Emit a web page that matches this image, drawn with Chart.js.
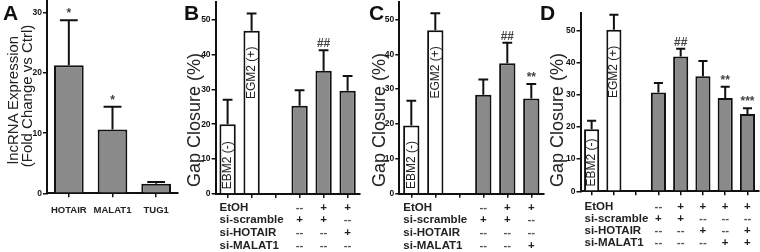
<!DOCTYPE html>
<html>
<head>
<meta charset="utf-8">
<script src="https://cdn.jsdelivr.net/npm/chart.js@4.4.0/dist/chart.umd.min.js"></script>
<style>
  html, body { margin: 0; padding: 0; background: #fff; }
  #fig { position: relative; width: 760px; height: 252px; overflow: hidden;
         font-family: "Liberation Sans", Arial, sans-serif; color: #222; }
  .panel { position: absolute; top: 0; height: 252px; }
  .letter { position: absolute; font-weight: bold; font-size: 21px; line-height: 1; color: #111; }
  .ytitle { position: absolute; white-space: nowrap; line-height: 1;
            transform: translate(-50%, -50%) rotate(-90deg); }
</style>
</head>
<body>
<div id="fig">
  <div class="panel" style="left:0;width:182px"><canvas id="chartA"></canvas></div>
  <div class="panel" style="left:185px;width:180px"><canvas id="chartB"></canvas></div>
  <div class="panel" style="left:370px;width:180px"><canvas id="chartC"></canvas></div>
  <div class="panel" style="left:550px;width:210px"><canvas id="chartD"></canvas></div>

  <div class="letter" style="left:3px;top:2px">A</div>
  <div class="letter" style="left:184px;top:2px">B</div>
  <div class="letter" style="left:369px;top:2px">C</div>
  <div class="letter" style="left:540px;top:2px">D</div>

  <div class="ytitle" style="left:12px;top:100px;font-size:15px">lncRNA Expression</div>
  <div class="ytitle" style="left:26px;top:96px;font-size:15px">(Fold Change vs Ctrl)</div>
  <div class="ytitle" style="left:194px;top:120px;font-size:18px">Gap Closure (%)</div>
  <div class="ytitle" style="left:379px;top:120px;font-size:18px">Gap Closure (%)</div>
  <div class="ytitle" style="left:557px;top:120px;font-size:18px">Gap Closure (%)</div>
</div>

<script>
// ---- panel A: lncRNA expression
const genesA = ['HOTAIR', 'MALAT1', 'TUG1'];
const foldA = [21.3, 10.6, 1.6];
const foldErrA = [7.5, 3.8, 0.3];
const marksA = ['*', '*', ''];
const yTicksA = [0, 10, 20, 30];

// ---- panels B-D: gap closure (two media controls, empty slot, siRNA groups)
const rowNames = ['EtOH', 'si-scramble', 'si-HOTAIR', 'si-MALAT1'];
const yTicksGap = [0, 10, 20, 30, 40, 50];

const groupsB = ['EBM2 (-)', 'EGM2 (+)', '', 'scr', 'scr+EtOH', 'HOTAIR+EtOH'];
const gapB = [20.0, 46.8, null, 25.3, 35.3, 29.6];
const gapErrB = [7.0, 4.9, null, 4.4, 5.9, 4.2];
const marksB = ['', '', '', '', '##', ''];
const etohB = ['', '', '', '--', '+', '+'];
const scrambleB = ['', '', '', '+', '+', '--'];
const hotairB = ['', '', '', '--', '--', '+'];
const malatB = ['', '', '', '--', '--', '--'];

const groupsC = ['EBM2 (-)', 'EGM2 (+)', '', 'scr', 'scr+EtOH', 'MALAT1+EtOH'];
const gapC = [19.6, 46.9, null, 28.4, 37.4, 27.3];
const gapErrC = [7.1, 4.9, null, 4.4, 5.9, 4.2];
const marksC = ['', '', '', '', '##', '**'];
const etohC = ['', '', '', '--', '+', '+'];
const scrambleC = ['', '', '', '+', '+', '--'];
const hotairC = ['', '', '', '--', '--', '--'];
const malatC = ['', '', '', '--', '--', '+'];

const groupsD = ['EBM2 (-)', 'EGM2 (+)', '', 'scr', 'scr+EtOH', 'HOTAIR+EtOH', 'MALAT1+EtOH', 'both+EtOH'];
const gapD = [19.3, 50.2, null, 30.7, 41.9, 35.7, 29.0, 24.0];
const gapErrD = [2.6, 4.6, null, 2.9, 2.4, 4.8, 3.5, 1.8];
const marksD = ['', '', '', '', '##', '', '**', '***'];
const etohD = ['', '', '', '--', '+', '+', '+', '+'];
const scrambleD = ['', '', '', '+', '+', '--', '--', '--'];
const hotairD = ['', '', '', '--', '--', '+', '--', '+'];
const malatD = ['', '', '', '--', '--', '--', '+', '+'];

const FONT = '"Liberation Sans", Arial, sans-serif';
const GREY = '#8a8a8a';

// error bars, significance marks, in-bar labels and the treatment table
const extras = {
  id: 'extras',
  afterDatasetsDraw(chart, args, o) {
    const ctx = chart.ctx;
    const x = chart.scales.x, y = chart.scales.y;
    const meta = chart.getDatasetMeta(0);
    const vals = chart.data.datasets[0].data;
    ctx.save();
    meta.data.forEach((bar, i) => {
      if (vals[i] == null) return;
      const top = y.getPixelForValue(vals[i]);
      const errTop = y.getPixelForValue(vals[i] + o.err[i]);
      const half = bar.width * 0.3;
      ctx.strokeStyle = '#111';
      ctx.lineWidth = 2;
      ctx.beginPath();
      ctx.moveTo(bar.x, top);
      ctx.lineTo(bar.x, errTop);
      ctx.moveTo(bar.x - half, errTop);
      ctx.lineTo(bar.x + half, errTop);
      ctx.stroke();
      if (o.marks[i]) {
        ctx.font = 'bold 12px ' + FONT;
        ctx.fillStyle = '#444';
        ctx.textAlign = 'center';
        ctx.textBaseline = 'alphabetic';
        ctx.fillText(o.marks[i], bar.x, errTop - 3);
      }
    });

    if (o.inBar) {
      ctx.font = '12px ' + FONT;
      ctx.fillStyle = '#222';
      ctx.textBaseline = 'middle';
      [0, 1].forEach(i => {
        const bar = meta.data[i];
        ctx.save();
        ctx.translate(bar.x, i === 0 ? bar.base - 4 : bar.y + 16);
        ctx.rotate(-Math.PI / 2);
        ctx.textAlign = i === 0 ? 'left' : 'right';
        ctx.fillText(chart.data.labels[i], 0, 0);
        ctx.restore();
      });
    }

    if (o.rows) {
      ctx.textBaseline = 'middle';
      ctx.font = 'bold 11.5px ' + FONT;
      o.rows.forEach((row, r) => {
        const yy = o.rowY + r * o.rowStep;
        ctx.fillStyle = '#222';
        ctx.textAlign = 'left';
        ctx.fillText(rowNames[r], chart.chartArea.left + 4, yy);
        ctx.textAlign = 'center';
        row.forEach((s, i) => {
          if (!s) return;
          ctx.fillStyle = s === '+' ? '#222' : '#555';
          ctx.fillText(s, x.getPixelForValue(i), yy);
        });
      });
    }
    ctx.restore();
  }
};

function noPad(s) {
  s.paddingTop = 0; s.paddingBottom = 0; s.paddingLeft = 0; s.paddingRight = 0;
}

function makePanel(id, p) {
  return new Chart(document.getElementById(id), {
    type: 'bar',
    data: {
      labels: p.labels,
      datasets: [{
        data: p.values,
        backgroundColor: c => (p.whiteFirst && c.dataIndex < 2) ? '#fff' : GREY,
        borderColor: '#111',
        borderWidth: 2,
        borderSkipped: 'start',
        barPercentage: 0.68,
        categoryPercentage: 1.0
      }]
    },
    options: {
      responsive: true,
      maintainAspectRatio: false,
      animation: false,
      layout: { padding: p.pad },
      plugins: {
        legend: { display: false },
        tooltip: { enabled: false },
        extras: { err: p.err, marks: p.marks, inBar: p.whiteFirst, rows: p.rows, rowY: p.rowY, rowStep: p.rowStep }
      },
      scales: {
        x: {
          offset: true,
          grid: { drawOnChartArea: false, drawTicks: true, tickLength: 4, offset: false, color: '#111', lineWidth: 1.5 },
          border: { display: true, color: '#111', width: 2 },
          ticks: {
            autoSkip: false, maxRotation: 0, padding: 7, color: '#222',
            font: { size: 9.5, weight: 'bold', family: FONT },
            callback: function(v, i) { return p.showLabels ? this.getLabelForValue(v) : ''; }
          },
          afterFit: s => { s.height = p.xH; noPad(s); }
        },
        y: {
          min: 0,
          max: p.yMax,
          afterBuildTicks: s => { s.ticks = p.yTicks.map(v => ({ value: v })); },
          grid: { drawOnChartArea: false, drawTicks: true, tickLength: 4, color: '#111', lineWidth: 1.5 },
          border: { display: true, color: '#111', width: 2 },
          ticks: { padding: 1, color: '#111', font: { size: 8.5, weight: 'bold', family: FONT } },
          afterFit: s => { s.width = p.yW; noPad(s); }
        }
      }
    },
    plugins: [extras]
  });
}

makePanel('chartA', {
  labels: genesA, values: foldA, err: foldErrA, marks: marksA, yTicks: yTicksA, yMax: 32,
  whiteFirst: false, showLabels: true, yW: 47, xH: 58.7, pad: { top: 1, right: 4, left: 0, bottom: 0 }
});
makePanel('chartB', {
  labels: groupsB, values: gapB, err: gapErrB, marks: marksB, yTicks: yTicksGap, yMax: 55,
  whiteFirst: true, showLabels: false, yW: 30.6, xH: 58, pad: { top: 2, right: 5.4, left: 0, bottom: 0 },
  rows: [etohB, scrambleB, hotairB, malatB], rowY: 207.5, rowStep: 12.7
});
makePanel('chartC', {
  labels: groupsC, values: gapC, err: gapErrC, marks: marksC, yTicks: yTicksGap, yMax: 55,
  whiteFirst: true, showLabels: false, yW: 29.3, xH: 58.3, pad: { top: 2, right: 6.7, left: 0, bottom: 0 },
  rows: [etohC, scrambleC, hotairC, malatC], rowY: 207.5, rowStep: 12.7
});
makePanel('chartD', {
  labels: groupsD, values: gapD, err: gapErrD, marks: marksD, yTicks: yTicksGap, yMax: 55.5,
  whiteFirst: true, showLabels: false, yW: 30.5, xH: 60.7, pad: { top: 12.6, right: 1.4, left: 0, bottom: 0 },
  rows: [etohD, scrambleD, hotairD, malatD], rowY: 207.3, rowStep: 11.9
});
</script>
</body>
</html>
